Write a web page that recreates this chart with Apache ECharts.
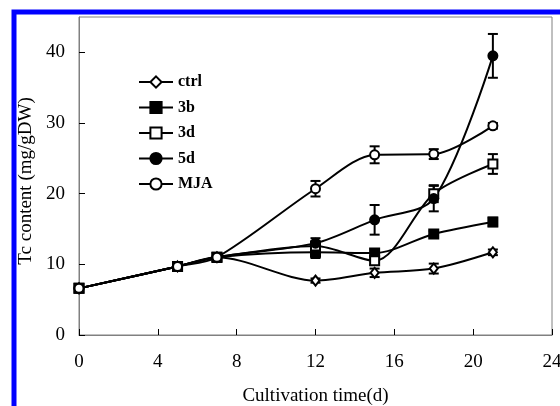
<!DOCTYPE html>
<html>
<head>
<meta charset="utf-8">
<script src="https://cdn.jsdelivr.net/npm/echarts@6/dist/echarts.min.js"></script>
<style>html,body{margin:0;padding:0;background:#fff;}#c{width:560px;height:406px;}</style>
</head>
<body>
<div id="c"></div>
<script>
var days = [0, 5, 7, 12, 15, 18, 21];
var ctrl = [6.6, 9.7, 11.0, 7.7, 8.8, 9.4, 11.7];
var b3 = [6.6, 9.7, 11.0, 11.7, 11.6, 14.3, 16.0];
var d3 = [6.6, 9.7, 11.0, 12.6, 10.5, 20.0, 24.2];
var d5 = [6.6, 9.7, 11.0, 13.0, 16.3, 19.3, 39.5];
var mja = [6.6, 9.7, 11.0, 20.7, 25.5, 25.6, 29.6];
var ctrlErr = [0.2, 0.3, 0.5, 0.3, 0.6, 0.7, 0.4];
var b3Err = [0.2, 0.3, 0.6, 0.8, 0.5, 0.4, 0.6];
var d3Err = [0.2, 0.3, 0.6, 0.6, 0.6, 1.2, 1.4];
var d5Err = [0.2, 0.3, 0.6, 0.7, 2.1, 1.8, 3.1];
var mjaErr = [0.2, 0.3, 0.6, 1.1, 1.2, 0.7, 0.4];
var names = ['ctrl', '3b', '3d', '5d', 'MJA'];
var xTicks = [0, 4, 8, 12, 16, 20, 24];
var yTicks = [0, 10, 20, 30, 40];

var FONT = "'Liberation Serif', 'Times New Roman', serif";
var values = [ctrl, b3, d3, d5, mja];
var errs = [ctrlErr, b3Err, d3Err, d5Err, mjaErr];
var symbols = ['diamond', 'rect', 'rect', 'circle', 'circle'];
var filled = [false, true, false, true, false];
var sizes = [[8, 10], 9, 9, 9, 9];

var series = [];
values.forEach(function (vals, i) {
  series.push({
    name: names[i],
    type: 'line',
    smooth: 0.3,
    data: days.map(function (d, k) { return [d, vals[k]]; }),
    symbol: symbols[i],
    symbolSize: sizes[i],
    showAllSymbol: true,
    color: '#000',
    lineStyle: {color: '#000', width: 2},
    itemStyle: {color: filled[i] ? '#000' : '#fff', borderColor: '#000', borderWidth: 2},
    z: 4
  });
});
values.forEach(function (vals, i) {
  series.push({
    name: names[i] + ' error',
    type: 'custom',
    renderItem: function (params, api) {
      var x = api.value(0), lo = api.value(1), hi = api.value(2);
      var p1 = api.coord([x, lo]), p2 = api.coord([x, hi]);
      var w = 5;
      var st = {stroke: '#000', lineWidth: 2};
      return {type: 'group', children: [
        {type: 'line', shape: {x1: p1[0], y1: p1[1], x2: p2[0], y2: p2[1]}, style: st},
        {type: 'line', shape: {x1: p1[0] - w, y1: p1[1], x2: p1[0] + w, y2: p1[1]}, style: st},
        {type: 'line', shape: {x1: p2[0] - w, y1: p2[1], x2: p2[0] + w, y2: p2[1]}, style: st}
      ]};
    },
    data: days.map(function (d, k) { return [d, vals[k] - errs[i][k], vals[k] + errs[i][k]]; }),
    z: 3,
    silent: true
  });
});

var chart = echarts.init(document.getElementById('c'));
chart.setOption({
  animation: false,
  backgroundColor: '#fff',
  graphic: [{
    type: 'rect', shape: {x: 14, y: 12, width: 700, height: 600},
    style: {fill: 'none', stroke: '#0000ff', lineWidth: 5}, z: 0
  }],
  grid: {left: 79, right: 8, top: 17, bottom: 71, show: true, borderColor: '#808080', borderWidth: 1,
    backgroundColor: '#fff', containLabel: false, outerBoundsMode: 'none'},
  legend: {
    data: names.slice(),
    orient: 'vertical', left: 138, top: 74, padding: 0,
    itemWidth: 34, itemHeight: 14, itemGap: 9.5,
    textStyle: {fontFamily: FONT, fontSize: 16, fontWeight: 'bold', color: '#000'},
    selectedMode: false
  },
  xAxis: {
    type: 'value', min: 0, max: 24, interval: 4,
    name: 'Cultivation time(d)', nameLocation: 'middle', nameGap: 52,
    nameTextStyle: {fontFamily: FONT, fontSize: 19, color: '#000'},
    axisLine: {lineStyle: {color: '#808080', width: 1}},
    axisTick: {inside: true, length: 6, lineStyle: {color: '#000'}},
    axisLabel: {fontFamily: FONT, fontSize: 19, color: '#000', margin: 18,
      formatter: function (v) { return xTicks.indexOf(v) >= 0 ? String(v) : ''; }},
    splitLine: {show: false}
  },
  yAxis: {
    type: 'value', min: 0, max: 45, interval: 10,
    name: 'Tc content (mg/gDW)', nameLocation: 'middle', nameGap: 42,
    nameTextStyle: {fontFamily: FONT, fontSize: 19, color: '#000', padding: [0, 10, 0, 0]},
    axisLine: {show: true, lineStyle: {color: '#808080', width: 1}},
    axisTick: {inside: true, length: 6, lineStyle: {color: '#000'}},
    axisLabel: {fontFamily: FONT, fontSize: 19, color: '#000', margin: 14, showMaxLabel: false,
      formatter: function (v) { return yTicks.indexOf(v) >= 0 ? String(v) : ''; }},
    splitLine: {show: false}
  },
  series: series
});
</script>
</body>
</html>
